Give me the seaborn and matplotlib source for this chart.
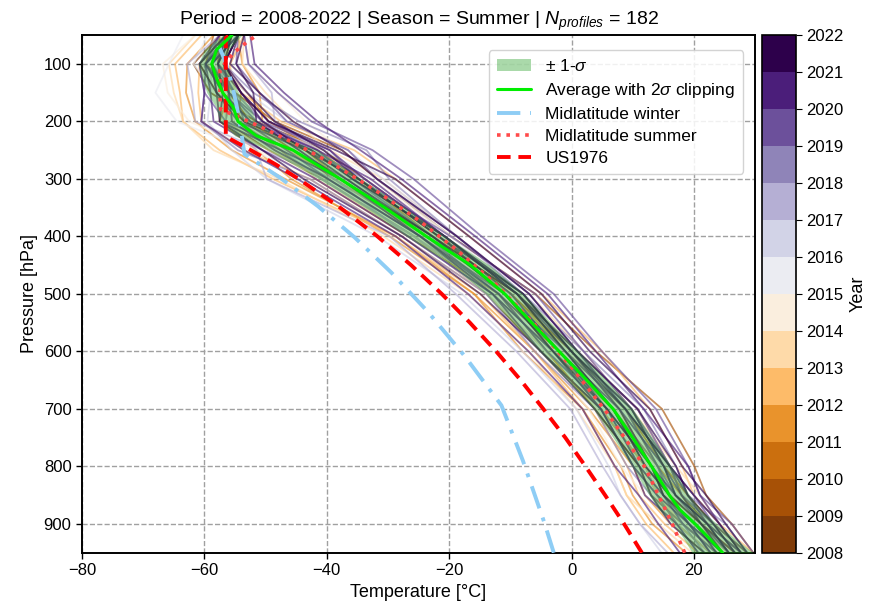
import numpy as np
import pandas as pd
import matplotlib
matplotlib.use("Agg")
import matplotlib.pyplot as plt
import seaborn as sns
from matplotlib.colors import BoundaryNorm
from matplotlib.cm import ScalarMappable
from matplotlib.patches import Patch
from matplotlib.lines import Line2D

# ---------------- data ----------------
# Mean profile (average with 2-sigma clipping) and its standard deviation
mean_p = [950, 925, 900, 875, 850, 800, 750, 700, 650, 600, 550, 500, 450, 400,
          350, 300, 250, 225, 200, 175, 150, 125, 100, 75, 50]
mean_T = [24.7, 22.5, 20.2, 17.7, 16.0, 13.1, 10.0, 6.8, 2.5, -2.0, -6.5, -10.9,
          -16.5, -23.7, -30.5, -37.8, -45.5, -51.5, -54.5, -55.3, -57.0, -58.0,
          -58.8, -58.0, -55.5]
sigma_T = [5.0, 4.2, 3.6, 3.4, 3.3, 3.2, 3.2, 3.2, 3.2, 3.2, 3.1, 3.1, 3.1, 3.2,
           3.3, 3.5, 4.0, 3.5, 3.0, 2.8, 2.6, 2.4, 2.2, 2.0, 1.6]

# Reference atmospheres
mlw_p = [950, 897.3, 789.7, 693.8, 608.1, 531.3, 462.7, 401.6, 347.3, 299.2,
         256.8, 219.9, 188.2, 161.0, 137.8, 117.8, 100.7, 86.1, 73.5, 62.8, 58]
mlw_T = [-2.9, -4.45, -7.95, -11.45, -17.45, -23.45, -29.45, -35.45, -41.45,
         -47.45, -53.45, -53.95, -54.45, -54.95, -55.45, -55.95, -56.45, -56.95,
         -57.45, -57.95, -57.95]
mls_p = [950, 902, 802, 710, 628, 554, 487, 426, 372, 324, 281, 243, 209, 179,
         153, 130, 111, 95, 81.2, 69.5, 59.5, 51]
mls_T = [18.5, 16.55, 12.05, 6.05, 0.05, -5.95, -11.95, -18.45, -24.95, -31.45,
         -37.85, -44.35, -50.85, -57.35, -57.45, -57.45, -57.45, -56.35, -55.25,
         -53.95, -52.75, -51.55]
us_p = [950, 900, 850, 800, 750, 700, 650, 600, 550, 500, 450, 400, 350, 300,
        275, 250, 226.3, 200, 150, 100, 54.7, 50]
us_T = [11.5, 8.6, 5.5, 2.3, -1.0, -4.6, -8.3, -12.3, -16.6, -21.2, -26.2, -31.7,
        -37.8, -44.6, -48.3, -52.4, -56.5, -56.5, -56.5, -56.5, -56.5, -55.9]

# Individual soundings: year and temperature departure from the mean
profile_p = [950, 900, 850, 800, 700, 600, 500, 400, 300, 250, 200, 150, 100, 50]
profile_years = [2008, 2008, 2009, 2009, 2010, 2010,
                 2011, 2011, 2011, 2012, 2012, 2012, 2013, 2013, 2013,
                 2014, 2014, 2015, 2015, 2016, 2016, 2017, 2017, 2017,
                 2018, 2018, 2018, 2019, 2019, 2019,
                 2020, 2020, 2020, 2020, 2021, 2021, 2021, 2021,
                 2019, 2019, 2020, 2020, 2020, 2021, 2021, 2021,
                 2018, 2017, 2016, 2013, 2012, 2011, 2014, 2019, 2020]
profile_anom = [
    [3, 2, 2, 3, 4, 3, 2, 3, 4, 5, 3, -2, -3, -2],
    [-2, -3, -2, -1, -2, -3, -3, -2, -3, -4, -2, 1, 2, 1],
    [5, 6, 6, 7, 8, 6, 5, 4, 6, 8, 6, 2, -1, -3],
    [1, 0, -1, 0, 1, 2, 1, 0, -1, 0, 2, 1, 0, -1],
    [-1, -2, -3, -2, -3, -2, -1, -3, -4, -2, 0, 3, 2, 0],
    [4, 3, 3, 2, 2, 1, 2, 1, 3, 4, 5, 4, 1, -2],
    [-6, -7, -6, -5, -5, -6, -5, -6, -8, -6, -3, 1, 3, 2],
    [2, 1, 2, 1, 0, -1, 0, 1, 0, 2, 4, 6, 5, 1],
    [-3, -4, -4, -3, -4, -4, -5, -5, -9, -10, -7, -6, -4, -3],
    [-4, -5, -5, -4, -3, -2, -3, -4, -5, -8, -6, -4, -2, -1],
    [5, 4, 4, 5, 6, 7, 6, 7, 9, 10, 7, 3, 1, -1],
    [-8, -8, -7, -6, -5, -4, -4, -5, -11, -12, -9, -7, -6, -5],
    [-5, -6, -7, -6, -6, -5, -6, -7, -10, -13, -9, -8, -7, -6],
    [1, 0, -1, -2, -1, 0, -1, -2, -4, -3, -1, 2, 3, 2],
    [3, 4, 5, 4, 3, 4, 4, 5, 7, 6, 9, 7, 5, 2],
    [-2, -3, -4, -5, -4, -3, -2, -1, -2, -6, -8, -9, -8, -6],
    [2, 3, 2, 3, 4, 3, 3, 4, 5, 8, 11, 9, 6, 3],
    [-3, -4, -3, -2, -1, -2, -3, -2, -3, -7, -10, -11, -7, -8],
    [3, 2, 1, 2, 1, 2, 3, 4, 6, 5, 2, -1, -3, -4],
    [-10, -9, -8, -7, -6, -6, -7, -8, -12, -10, -5, -2, 0, 1],
    [2, 3, 4, 3, 2, 3, 4, 5, 7, 9, 8, 4, 1, 0],
    [-9, -9, -8, -8, -7, -7, -8, -6, -12, -6, -2, 1, 2, 1],
    [0, -1, 0, 1, 2, 1, 0, 1, 2, 4, 6, 8, 6, 2],
    [-4, -3, -2, -3, -2, -1, -2, -3, -1, -5, -7, -5, -4, -2],
    [1, 2, 1, 2, 3, 2, 3, 5, 8, 12, 10, 5, 2, -1],
    [-3, -2, -3, -4, -3, -4, -3, -4, -5, -9, -6, -3, -2, -1],
    [4, 5, 3, 4, 5, 4, 3, 3, 4, 3, 4, 2, 0, -1],
    [5, 6, 5, 6, 7, 7, 8, 9, 12, 13, 12, 9, 6, 2],
    [-1, -2, -1, 0, -1, -2, -1, 0, 1, 0, -2, -3, -1, 0],
    [2, 3, 4, 3, 3, 4, 5, 4, 3, 6, 4, 1, -1, -2],
    [3, 4, 5, 6, 5, 6, 7, 8, 10, 11, 13, 10, 7, 3],
    [-2, -1, -2, -3, -2, -1, -2, -3, -4, -5, -4, -2, -1, -1],
    [1, 1, 2, 2, 1, 0, 1, 2, 3, 2, 0, -1, 0, 1],
    [-7, -6, -5, -6, -5, -5, -6, -5, -7, -8, -6, -3, -2, -2],
    [4, 5, 6, 5, 6, 5, 6, 7, 9, 7, 5, 3, 2, 1],
    [0, 1, 0, -1, 0, 1, 2, 1, 0, 1, 3, 5, 4, 2],
    [2, 3, 3, 4, 4, 3, 4, 5, 6, 8, 9, 6, 3, 1],
    [-3, -4, -3, -2, -3, -3, -4, -4, -6, -5, -3, 0, 1, 0],
    [1, 2, 1, 1, 2, 1, 2, 3, 2, 4, 3, 1, 0, 0],
    [-2, -1, 0, -1, 0, 1, 0, -1, -2, -1, 1, 2, 1, 0],
    [2, 1, 1, 0, 1, 2, 2, 3, 4, 6, 5, 3, 1, -1],
    [0, -1, -1, -2, -1, 0, -1, -1, 0, -2, -3, -1, 0, 1],
    [3, 2, 3, 3, 2, 3, 2, 3, 5, 4, 2, 0, -1, 0],
    [1, 2, 1, 2, 3, 2, 3, 3, 2, 3, 1, -1, -2, -1],
    [-1, 0, -1, 0, -1, -1, 0, 1, 1, 2, 4, 3, 2, 1],
    [3, 4, 4, 3, 2, 2, 3, 2, 3, 5, 6, 4, 2, 0],
    [0, -1, 0, 1, 0, -1, 0, 1, 2, 3, 2, 0, -1, 0],
    [-1, -2, -1, -2, -1, -2, -1, -2, -3, -2, 0, 1, 1, 0],
    [1, 0, 1, 0, -1, 0, 1, 0, -1, 1, 2, 2, 1, 0],
    [-1, -2, -2, -1, -2, -1, -2, -1, -2, -4, -3, -1, 0, 1],
    [0, 1, 0, -1, 0, -1, 0, -1, 0, -1, 1, 0, -1, 0],
    [2, 1, 0, 1, 2, 1, 1, 2, 3, 2, 1, -1, -2, -1],
    [-1, -1, -2, -1, 0, 1, 0, -1, -2, -3, -2, 0, 1, 0],
    [4, 3, 2, 3, 4, 3, 4, 5, 6, 9, 8, 6, 4, 1],
    [-4, -3, -4, -3, -2, -3, -2, -1, -2, -3, -1, 1, 2, 1],
]
year_edges = list(range(2008, 2023))

# ---------------- build tables ----------------
mean_lookup = dict(zip(mean_p, mean_T))
rows = []
for pid, (yr, anom) in enumerate(zip(profile_years, profile_anom)):
    for p, a in zip(profile_p, anom):
        rows.append({"pid": pid, "year": yr, "p": p, "T": mean_lookup[p] + a})
prof_df = pd.DataFrame(rows)
mean_df = pd.DataFrame({"p": mean_p, "T": mean_T, "s": sigma_T})

# ---------------- style ----------------
sns.set_style("ticks")
plt.rcParams["font.family"] = ["Liberation Sans", "DejaVu Sans"]
plt.rcParams["mathtext.fontset"] = "custom"
plt.rcParams["mathtext.rm"] = "Liberation Sans"
plt.rcParams["mathtext.it"] = "Liberation Sans:italic"
plt.rcParams["mathtext.bf"] = "Liberation Sans:bold"
for key in ["text.color", "axes.labelcolor", "xtick.color", "ytick.color",
            "axes.edgecolor"]:
    plt.rcParams[key] = "black"

cmap = plt.get_cmap("PuOr", len(year_edges) - 1)
palette = {y: cmap(i) for i, y in enumerate(year_edges[:-1])}

fig = plt.figure(figsize=(8.79, 6.08), dpi=100)
ax = fig.add_axes([0.0933, 0.0909, 0.7657, 0.8512])
cax = fig.add_axes([0.8665, 0.0909, 0.0390, 0.8512])

ax.grid(True, linestyle="--", color="#a0a0a0", linewidth=1.0)
ax.set_axisbelow(True)

sns.lineplot(data=prof_df, x="T", y="p", hue="year", units="pid",
             estimator=None, sort=False, palette=palette, legend=False,
             linewidth=1.3, alpha=0.65, ax=ax, zorder=2)

ax.fill_betweenx(mean_df["p"], mean_df["T"] - mean_df["s"],
                 mean_df["T"] + mean_df["s"], color="tab:green", alpha=0.4,
                 linewidth=0, zorder=3)

ax.plot(mlw_T, mlw_p, color="#8ecdf5", linestyle=(0, (6, 2.5, 1, 2.5)),
        linewidth=2.8, zorder=4)
ax.plot(mls_T, mls_p, color="#ff4a4a", linestyle=(0, (1, 1.6)),
        linewidth=2.6, zorder=4)
ax.plot(us_T, us_p, color="#ff0000", linestyle=(0, (3.5, 2)),
        linewidth=2.8, zorder=4)
sns.lineplot(data=mean_df, x="T", y="p", sort=False, estimator=None,
             color="#00ee00", linewidth=2.2, ax=ax, zorder=5)

ax.set_xlim(-80, 30)
ax.set_ylim(950, 50)
ax.set_xticks([-80, -60, -40, -20, 0, 20])
ax.set_yticks([100, 200, 300, 400, 500, 600, 700, 800, 900])
ax.tick_params(labelsize=12, length=4, width=1, colors="black")
for sp in ax.spines.values():
    sp.set_visible(True)
    sp.set_linewidth(1.4)
    sp.set_color("black")
ax.set_xlabel("Temperature [°C]", fontsize=13, color="black")
ax.set_ylabel("Pressure [hPa]", fontsize=13, color="black")
ax.set_title(r"Period = 2008-2022 | Season = Summer | $N_{profiles}$ = 182",
             fontsize=14, pad=7, color="black")

handles = [
    Patch(facecolor="tab:green", alpha=0.4, edgecolor="none"),
    Line2D([], [], color="#00ee00", linewidth=2.2),
    Line2D([], [], color="#8ecdf5", linestyle=(0, (6, 2.5, 1, 2.5)), linewidth=2.8),
    Line2D([], [], color="#ff4a4a", linestyle=(0, (1, 1.6)), linewidth=2.6),
    Line2D([], [], color="#ff0000", linestyle=(0, (3.5, 2)), linewidth=2.8),
]
labels = [r"$\pm$ 1-$\sigma$", r"Average with 2$\sigma$ clipping",
          "Midlatitude winter", "Midlatitude summer", "US1976"]
leg = ax.legend(handles, labels, loc="upper right", fontsize=12.5,
                frameon=True, fancybox=True, framealpha=0.85,
                edgecolor="#cccccc", borderpad=0.45, labelspacing=0.4,
                handlelength=2.0, bbox_to_anchor=(0.995, 0.988))
for t in leg.get_texts():
    t.set_color("black")
leg.set_zorder(10)

norm = BoundaryNorm(year_edges, cmap.N)
cb = fig.colorbar(ScalarMappable(norm=norm, cmap=cmap), cax=cax,
                  ticks=year_edges)
cb.ax.tick_params(labelsize=12, length=4, colors="black")
cb.outline.set_linewidth(1.2)
cb.outline.set_edgecolor("black")
cb.set_label("Year", fontsize=13, color="black")

fig.savefig("out.png", dpi=100)
